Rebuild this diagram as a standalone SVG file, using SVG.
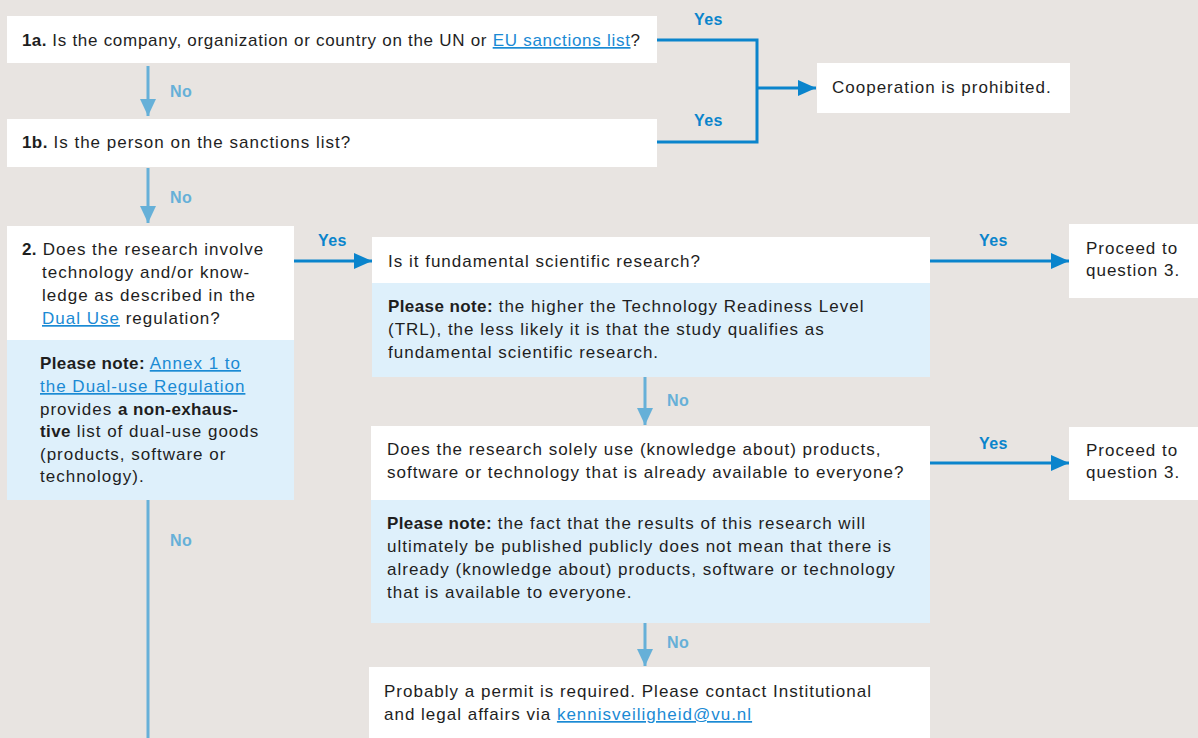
<svg xmlns="http://www.w3.org/2000/svg" width="1198" height="738" viewBox="0 0 1198 738">
  <style>
    .bg { fill: #e8e4e1; }
    .box { fill: #ffffff; }
    .note { fill: #def0fb; }
    text { font-family: "Liberation Sans", Arial, sans-serif; font-size: 17px; letter-spacing: 1px; fill: #1e1e1e; }
    .tight { letter-spacing: 0.72px; }
    .b { font-weight: bold; letter-spacing: 0.4px; }
    .link { fill: #1a8ad4; text-decoration: underline; }
    .yes { font-weight: bold; fill: #0a84cc; font-size: 16px; letter-spacing: 0.4px; }
    .no { font-weight: bold; fill: #66b0d8; font-size: 16px; letter-spacing: 0.4px; }
    .yesline { stroke: #0a84cc; stroke-width: 3; fill: none; }
    .noline { stroke: #66b0d8; stroke-width: 3; fill: none; }
  </style>
  <defs>
    <marker id="arrYes" markerUnits="userSpaceOnUse" markerWidth="18" markerHeight="16" refX="18" refY="8" orient="auto">
      <path d="M0,0 L18,8 L0,16 z" fill="#0a84cc"/>
    </marker>
    <marker id="arrNo" markerUnits="userSpaceOnUse" markerWidth="17" markerHeight="16" refX="17" refY="8" orient="auto">
      <path d="M0,0 L17,8 L0,16 z" fill="#66b0d8"/>
    </marker>
  </defs>

  <rect class="bg" x="0" y="0" width="1198" height="738"/>

  <!-- connectors -->
  <g id="connectors">
    <path class="yesline" d="M657,40 H757 V142 H657"/>
    <path class="yesline" d="M757,88 H816" marker-end="url(#arrYes)"/>
    <path class="noline" d="M148,66 V116" marker-end="url(#arrNo)"/>
    <path class="noline" d="M148,168 V223" marker-end="url(#arrNo)"/>
    <path class="noline" d="M148,500 V738"/>
    <path class="yesline" d="M294,261 H372" marker-end="url(#arrYes)"/>
    <path class="yesline" d="M930,261 H1069" marker-end="url(#arrYes)"/>
    <path class="yesline" d="M930,463 H1069" marker-end="url(#arrYes)"/>
    <path class="noline" d="M645,377 V425" marker-end="url(#arrNo)"/>
    <path class="noline" d="M645,623 V666" marker-end="url(#arrNo)"/>

    <text class="yes" x="694" y="25">Yes</text>
    <text class="yes" x="694" y="126">Yes</text>
    <text class="no" x="170" y="97">No</text>
    <text class="no" x="170" y="203">No</text>
    <text class="no" x="170" y="546">No</text>
    <text class="yes" x="318" y="246">Yes</text>
    <text class="yes" x="979" y="246">Yes</text>
    <text class="no" x="667" y="406">No</text>
    <text class="yes" x="979" y="449">Yes</text>
    <text class="no" x="667" y="648">No</text>
  </g>

  <g id="q1a">
    <rect class="box" x="7" y="16" width="650" height="47"/>
    <text class="tight" x="22" y="46"><tspan class="b">1a.</tspan> Is the company, organization or country on the UN or <tspan class="link">EU sanctions list</tspan>?</text>
  </g>

  <g id="q1b">
    <rect class="box" x="7" y="119" width="650" height="48"/>
    <text x="22" y="148"><tspan class="b">1b.</tspan> Is the person on the sanctions list?</text>
  </g>

  <g id="prohibited">
    <rect class="box" x="817" y="63" width="253" height="50"/>
    <text x="832" y="93">Cooperation is prohibited.</text>
  </g>

  <g id="q2">
    <rect class="box" x="7" y="226" width="287" height="114"/>
    <rect class="note" x="7" y="340" width="287" height="160"/>
    <text x="22" y="255"><tspan class="b">2.</tspan> Does the research involve</text>
    <text x="42" y="278">technology and/or know-</text>
    <text x="42" y="301">ledge as described in the</text>
    <text x="42" y="324"><tspan class="link">Dual Use</tspan> regulation?</text>
    <text x="40" y="369"><tspan class="b">Please note:</tspan> <tspan class="link">Annex 1 to</tspan></text>
    <text x="40" y="392"><tspan class="link">the Dual-use Regulation</tspan></text>
    <text x="40" y="415">provides <tspan class="b">a non-exhaus-</tspan></text>
    <text x="40" y="437"><tspan class="b">tive</tspan> list of dual-use goods</text>
    <text x="40" y="460">(products, software or</text>
    <text x="40" y="482">technology).</text>
  </g>

  <g id="fundamental">
    <rect class="box" x="372" y="237" width="558" height="46"/>
    <rect class="note" x="372" y="283" width="558" height="94"/>
    <text x="388" y="267">Is it fundamental scientific research?</text>
    <text x="388" y="312"><tspan class="b">Please note:</tspan> the higher the Technology Readiness Level</text>
    <text x="388" y="335">(TRL), the less likely it is that the study qualifies as</text>
    <text x="388" y="358">fundamental scientific research.</text>
  </g>

  <g id="proceed1">
    <rect class="box" x="1069" y="224" width="129" height="74"/>
    <text x="1086" y="254">Proceed to</text>
    <text x="1086" y="276">question 3.</text>
  </g>

  <g id="available">
    <rect class="box" x="371" y="426" width="559" height="74"/>
    <rect class="note" x="371" y="500" width="559" height="123"/>
    <text x="387" y="455">Does the research solely use (knowledge about) products,</text>
    <text x="387" y="478">software or technology that is already available to everyone?</text>
    <text x="387" y="529"><tspan class="b">Please note:</tspan> the fact that the results of this research will</text>
    <text x="387" y="552">ultimately be published publicly does not mean that there is</text>
    <text x="387" y="575">already (knowledge about) products, software or technology</text>
    <text x="387" y="598">that is available to everyone.</text>
  </g>

  <g id="proceed2">
    <rect class="box" x="1069" y="427" width="129" height="73"/>
    <text x="1086" y="456">Proceed to</text>
    <text x="1086" y="478">question 3.</text>
  </g>

  <g id="permit">
    <rect class="box" x="369" y="667" width="561" height="71"/>
    <text x="384" y="697">Probably a permit is required. Please contact Institutional</text>
    <text x="384" y="720">and legal affairs via <tspan class="link">kennisveiligheid@vu.nl</tspan></text>
  </g>
</svg>
